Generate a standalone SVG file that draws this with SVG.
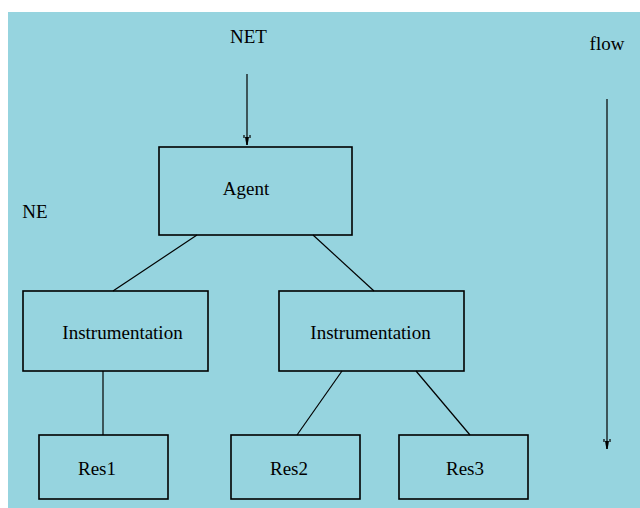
<svg xmlns="http://www.w3.org/2000/svg" width="640" height="508" viewBox="0 0 640 508">
<style>
.bx{fill:none;stroke:#000;stroke-width:1.6}
.lbl{font-family:"Liberation Serif","Times New Roman",serif;font-size:19px;fill:#000;text-anchor:middle}
.cn{stroke:#000;stroke-width:1.2;fill:none}
</style>
<defs>
<marker id="ah" markerWidth="12" markerHeight="10" viewBox="-11 -5 12 10" refX="0" refY="0" orient="auto" markerUnits="userSpaceOnUse">
<path d="M-10,-3 L-7,-3 M-10,3 L-7,3" stroke="#000" stroke-width="1.2" fill="none"/>
<path d="M-8,-2 L-8,2 L0,0.6 L0,-0.6Z" fill="#000"/>
</marker>
</defs>
<rect x="0" y="0" width="640" height="508" fill="#fff"/>
<rect x="8" y="12" width="632" height="496" fill="#96d4df"/>
<g id="connectors">
<line class="cn" x1="247" y1="74" x2="247" y2="145" marker-end="url(#ah)" stroke-width="1.5"/>
<line class="cn" x1="607" y1="99" x2="607" y2="449" marker-end="url(#ah)" stroke-width="1.5"/>
<line class="cn" x1="197" y1="235" x2="113" y2="291"/>
<line class="cn" x1="313" y1="235" x2="374" y2="291"/>
<line class="cn" x1="103" y1="371" x2="103" y2="435" stroke-width="1.6"/>
<line class="cn" x1="342" y1="371" x2="297" y2="435"/>
<line class="cn" x1="416" y1="371" x2="470" y2="435"/>
</g>
<g id="net"><text class="lbl" x="248.5" y="43">NET</text></g>
<g id="ne"><text class="lbl" x="35" y="218">NE</text></g>
<g id="flow"><text class="lbl" x="607" y="50">flow</text></g>
<g id="agent"><rect class="bx" x="159" y="147" width="193" height="88"/><text class="lbl" x="246" y="195">Agent</text></g>
<g id="instr1"><rect class="bx" x="23" y="291" width="185" height="80"/><text class="lbl" x="122.5" y="339">Instrumentation</text></g>
<g id="instr2"><rect class="bx" x="279" y="291" width="185" height="80"/><text class="lbl" x="370.5" y="339">Instrumentation</text></g>
<g id="res1"><rect class="bx" x="39" y="435" width="129" height="64"/><text class="lbl" x="97" y="475">Res1</text></g>
<g id="res2"><rect class="bx" x="231" y="435" width="129" height="64"/><text class="lbl" x="289" y="475">Res2</text></g>
<g id="res3"><rect class="bx" x="399" y="435" width="129" height="64"/><text class="lbl" x="465" y="475">Res3</text></g>
</svg>
